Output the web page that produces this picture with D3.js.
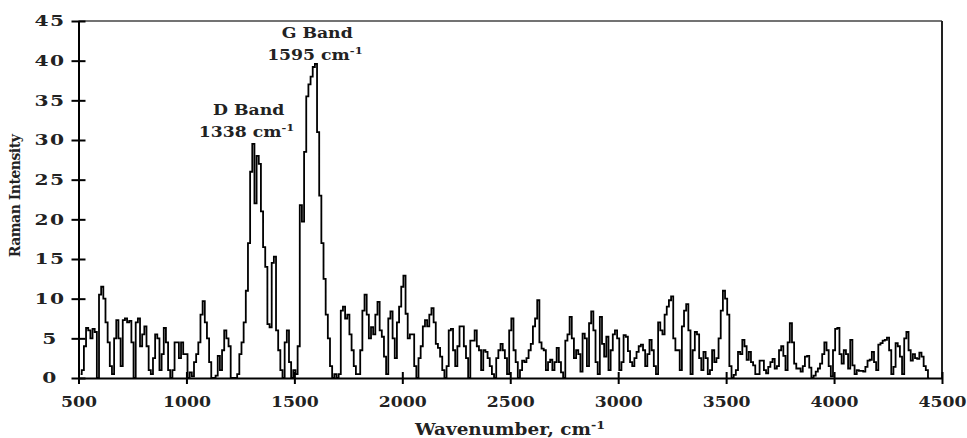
<!DOCTYPE html>
<html>
<head>
<meta charset="utf-8">
<script src="https://cdn.jsdelivr.net/npm/d3@7"></script>
<style>
  body { margin: 0; background: #fff; }
  text { font-family: "DejaVu Serif", serif; font-weight: bold; fill: #222; }
</style>
</head>
<body>
<div id="chart"></div>
<script>
// spectrum sampled every 10 cm-1, starting at 510 cm-1
var startWn = 510;
var stepWn = 10;
var intensity = [
  /* 510-590 */ 0.5, 1, 4, 6.3, 6, 5, 6.2, 5.8, 0,
  /* 600s */ 10.5, 11.5, 10, 7, 4.5, 1.5, 0.5, 5, 7.3, 5,
  /* 700s */ 1.5, 7.3, 7.5, 7, 7.2, 4.5, 0, 7, 7.5, 4,
  /* 800s */ 5.5, 6.5, 4, 1, 0.5, 2.5, 5.5, 5, 1, 3,
  /* 900s */ 6.3, 4.5, 1, 0, 1, 4.5, 4.5, 2.5, 4.5, 3,
  /* 1000s */ 3, 0, 0.7, 0.2, 2, 3, 4.5, 8, 9.7, 7,
  /* 1100s */ 5, 2, 0, 0, 0.3, 2.8, 1, 3.5, 6, 5,
  /* 1200s */ 4, 0, 0, 0, 0.5, 3, 4.5, 7, 11, 17,
  /* 1300s */ 26, 29.5, 22, 28, 27, 21, 16.5, 14, 6.8, 6.4,
  /* 1400s */ 14.5, 15.3, 6, 3.5, 1, 0, 4.5, 6, 2, 0,
  /* 1500s */ 1, 0.5, 4, 21.8, 19.7, 28.5, 35.5, 37, 38, 39.2,
  /* 1600s */ 39.6, 31, 23, 17, 12.5, 8, 5, 1.5, 0, 0.5,
  /* 1700s */ 0, 0.5, 8.5, 9, 7.5, 8, 5.5, 3.5, 1.5, 0.5,
  /* 1800s */ 0.5, 3.5, 8.5, 10.5, 8, 5, 6.4, 5.5, 8, 9.6,
  /* 1900s */ 6, 5.2, 2.7, 0.5, 7.5, 8.4, 5, 2.5, 7, 9,
  /* 2000s */ 11.5, 12.9, 8.1, 5, 5.5, 5.5, 1.5, 0, 2.5, 4,
  /* 2100s */ 6.5, 7.3, 6.5, 8, 8.8, 7, 4.3, 3.8, 2.7, 1,
  /* 2200s */ 0, 1.5, 6, 6.2, 3.5, 1.5, 4, 6.5, 6.5, 4,
  /* 2300s */ 2.5, 0, 4.7, 4.7, 6, 4, 3.5, 1, 3.5, 3.3,
  /* 2400s */ 2.5, 1.5, 0.5, 0, 2.5, 3.5, 4.3, 3.5, 2.5, 0.5,
  /* 2500s */ 6, 7.5, 3.5, 2, 0, 1, 2.2, 2, 2.5, 3.5,
  /* 2600s */ 4.3, 6.5, 7.5, 9.8, 4.5, 3.7, 3.5, 1, 2, 2.3,
  /* 2700s */ 1, 2, 3.8, 2, 0.7, 0, 4.7, 5.5, 7.7, 5,
  /* 2800s */ 2.5, 3.5, 3, 0.8, 5.6, 5, 1.5, 6.9, 8.4, 6,
  /* 2900s */ 2, 0.5, 7.7, 4.3, 2.7, 5.2, 1, 3.5, 5.5, 6,
  /* 3000s */ 5, 1, 2, 5.4, 5.2, 3.4, 2, 1.5, 2.5, 3.3,
  /* 3100s */ 4, 4.2, 3.5, 1.5, 3, 4.8, 3.5, 1.5, 0.5, 7,
  /* 3200s */ 6, 5.5, 8, 9, 9.8, 10.3, 5, 3.5, 3.5, 1,
  /* 3300s */ 6.5, 8.5, 9.3, 6, 0.5, 3.5, 5.8, 5.5, 2.5, 1,
  /* 3400s */ 3.3, 2.5, 0.5, 1, 3.5, 2, 2.5, 5, 8.5, 11,
  /* 3500s */ 10, 8, 1.5, 0, 0.4, 1, 3.3, 3, 4.8, 4,
  /* 3600s */ 2.3, 3.3, 2, 1.6, 0.5, 0.5, 2.2, 2.2, 1, 0.6,
  /* 3700s */ 1.4, 2, 2.4, 1.2, 1.5, 3.5, 4, 2.8, 1, 4.5,
  /* 3800s */ 6.9, 4.5, 1.8, 1.2, 1.2, 0.8, 1.5, 2.7, 2.8, 1.3,
  /* 3900s */ 0, 0.3, 0.8, 1.2, 1.8, 3, 4.5, 3.5, 1.5, 0.2,
  /* 4000s */ 3.5, 6.2, 6.3, 3, 1.8, 3.5, 3, 1.2, 4.8, 1.6,
  /* 4100s */ 0.5, 1, 0.9, 0.9, 0.8, 1.4, 2.2, 2.3, 3.3, 2,
  /* 4200s */ 1, 4.2, 4.4, 4.7, 4.8, 5.1, 3.5, 0.5, 1.4, 4.4,
  /* 4300s */ 4, 2.7, 0.5, 5, 5.8, 3.5, 2.2, 3, 2.5, 2.4,
  /* 4400s */ 3.2, 2.7, 1.5, 1, 0
];
var xTicks = [500, 1000, 1500, 2000, 2500, 3000, 3500, 4000, 4500];
var yTicks = [0, 5, 10, 15, 20, 25, 30, 35, 40, 45];
var bandNames = ["D Band", "G Band"];
var bandWn = [1338, 1595];

var margin = { top: 21, right: 25, bottom: 60, left: 78.5 },
  width = 967 - margin.left - margin.right,
  height = 438 - margin.top - margin.bottom;

var svg = d3.select("#chart")
  .append("svg")
  .attr("width", width + margin.left + margin.right)
  .attr("height", height + margin.top + margin.bottom)
  .append("g")
  .attr("transform", "translate(" + margin.left + "," + margin.top + ")");

var x = d3.scaleLinear().domain([500, 4500]).range([0, width]);
var y = d3.scaleLinear().domain([0, 45]).range([height, 0]);

var data = intensity.map(function (v, i) { return [startWn + i * stepWn, v]; });

var sx = 1.15; // text in the source is a bit wide

// frame (top + right)
svg.append("line").attr("x1", 0).attr("x2", width).attr("y1", 0).attr("y2", 0)
  .attr("stroke", "#444").attr("stroke-width", 1.5);
svg.append("line").attr("x1", width).attr("x2", width).attr("y1", 0).attr("y2", height)
  .attr("stroke", "#222").attr("stroke-width", 2);

// spectrum
var line = d3.line()
  .x(function (d) { return x(d[0]); })
  .y(function (d) { return y(d[1]); })
  .curve(d3.curveStep);

svg.append("path")
  .datum(data)
  .attr("fill", "none")
  .attr("stroke", "#000")
  .attr("stroke-width", 1.8)
  .attr("d", line);

// X axis
var xAxis = svg.append("g")
  .attr("transform", "translate(0," + height + ")")
  .call(d3.axisBottom(x).tickValues(xTicks).tickFormat(d3.format("d")).tickSize(6).tickSizeOuter(0));
xAxis.select(".domain").attr("stroke", "#000").attr("stroke-width", 2);
xAxis.selectAll(".tick line").attr("y1", -6).attr("stroke", "#000").attr("stroke-width", 2);
xAxis.selectAll(".tick text")
  .attr("y", 29).attr("dy", 0)
  .attr("transform", "scale(" + sx + ",1)")
  .style("font-size", "15px")
  .style("font-family", "DejaVu Serif")
  .style("font-weight", "bold")
  .attr("fill", "#222");

// Y axis
var ysx = 1.35;
var yAxis = svg.append("g")
  .call(d3.axisLeft(y).tickValues(yTicks).tickSize(7).tickSizeOuter(0));
yAxis.select(".domain").attr("stroke", "#000").attr("stroke-width", 2);
yAxis.selectAll(".tick line").attr("x1", 7).attr("stroke", "#000").attr("stroke-width", 2);
yAxis.selectAll(".tick text")
  .attr("x", -28.5 / ysx)
  .attr("text-anchor", "middle")
  .attr("transform", "scale(" + ysx + ",1)")
  .style("letter-spacing", "1px")
  .style("font-size", "15px")
  .style("font-family", "DejaVu Serif")
  .style("font-weight", "bold")
  .attr("fill", "#222");

// axis titles
var xt = svg.append("text")
  .attr("transform", "translate(" + (510 - margin.left) + "," + (435 - margin.top) + ") scale(" + sx + ",1)")
  .attr("text-anchor", "middle")
  .style("font-size", "16px");
xt.append("tspan").text("Wavenumber, cm");
xt.append("tspan").attr("dy", -6).style("font-size", "11px").text("-1");

svg.append("text")
  .attr("transform", "translate(" + (20 - margin.left) + "," + (196 - margin.top) + ") rotate(-90)")
  .attr("text-anchor", "middle")
  .style("font-size", "14px")
  .style("letter-spacing", "-0.5px")
  .text("Raman Intensity");

// band annotations (label anchor offsets in px)
var labelDx = [-13, 0];
var labelTop = [33.1, 42.85];
bandNames.forEach(function (name, i) {
  var g = svg.append("g")
    .attr("transform", "translate(" + (x(bandWn[i]) + labelDx[i]) + "," + y(labelTop[i]) + ") scale(" + sx + ",1)");
  g.append("text").attr("text-anchor", "middle").attr("x", 2)
    .style("font-size", "15px").text(name);
  var t = g.append("text").attr("text-anchor", "middle").attr("y", 22)
    .style("font-size", "15px");
  t.append("tspan").text(bandWn[i] + " cm");
  t.append("tspan").attr("dy", -6).style("font-size", "10px").text("-1");
});
</script>
</body>
</html>
